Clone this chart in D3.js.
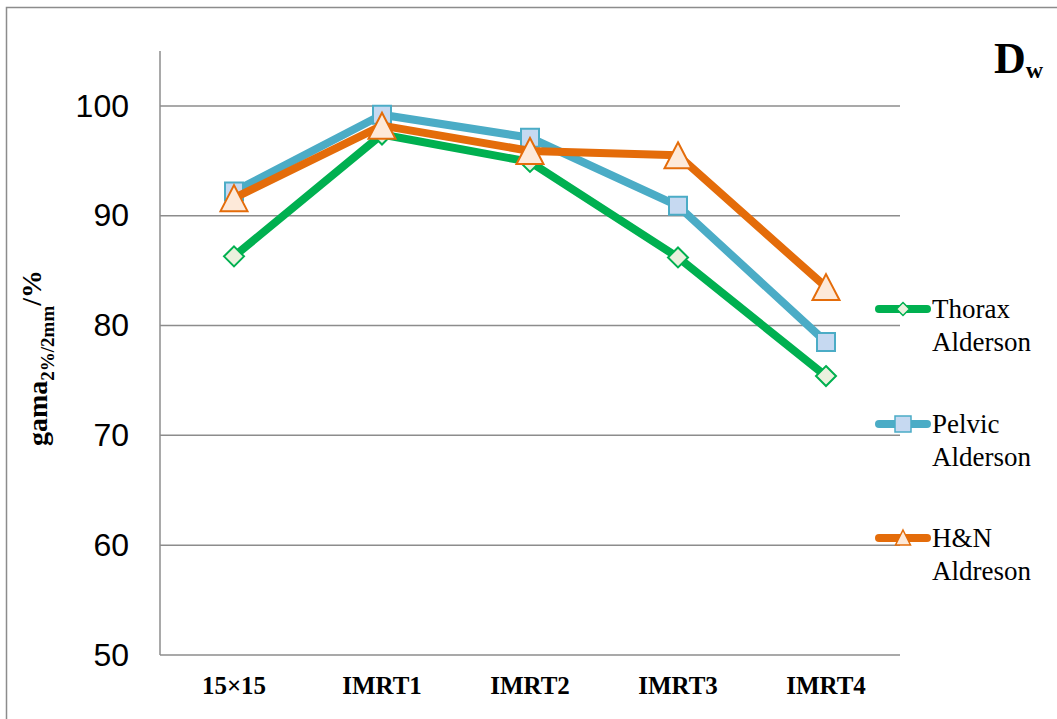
<!DOCTYPE html>
<html>
<head>
<meta charset="utf-8">
<script src="https://cdn.jsdelivr.net/npm/d3@7"></script>
<style>
  html, body { margin: 0; padding: 0; background: #fff; }
  svg { display: block; }
  .serif { font-family: "Liberation Serif", "Times New Roman", Times, "DejaVu Serif", serif; }
  .sans { font-family: "Liberation Sans", Arial, Helvetica, sans-serif; }
</style>
</head>
<body>
<svg id="chart" width="1057" height="719"></svg>
<script>
const categories = ["15×15", "IMRT1", "IMRT2", "IMRT3", "IMRT4"];
const thorax = [86.3, 97.4, 94.9, 86.2, 75.4];
const pelvic = [92.2, 99.2, 97.1, 90.9, 78.5];
const hn = [91.6, 98.2, 95.9, 95.5, 83.5];
const yTicks = [50, 60, 70, 80, 90, 100];
const seriesNames = [["Thorax", "Alderson"], ["Pelvic", "Alderson"], ["H&N", "Aldreson"]];

const series = [
  { name: seriesNames[0], values: thorax, color: "#00B050", fill: "#EBF1DE", marker: "diamond" },
  { name: seriesNames[1], values: pelvic, color: "#4BACC6", fill: "#C6D9F1", marker: "square" },
  { name: seriesNames[2], values: hn, color: "#E46C0A", fill: "#FDE9D9", marker: "triangle" }
];

const svg = d3.select("#chart");
const mLeft = 160, mRight = 900, mTop = 51, mBottom = 655;

const x = d3.scaleBand().domain(categories).range([mLeft, mRight]);
const y = d3.scaleLinear().domain([50, 105]).range([mBottom, mTop]);

// outer frame
svg.append("path").attr("d", `M6.5,800 L6.5,7.5 L1100,7.5`)
  .attr("fill", "none").attr("stroke", "#8c8c8c").attr("stroke-width", 1.5);

// gridlines
svg.append("g").selectAll("line").data(yTicks.filter(d => d > 50)).join("line")
  .attr("x1", mLeft).attr("x2", mRight)
  .attr("y1", d => y(d)).attr("y2", d => y(d))
  .attr("stroke", "#8c8c8c").attr("stroke-width", 1.5);

// axes lines
svg.append("line").attr("x1", mLeft).attr("x2", mLeft).attr("y1", mTop).attr("y2", mBottom)
  .attr("stroke", "#8c8c8c").attr("stroke-width", 1.5);
svg.append("line").attr("x1", mLeft).attr("x2", mRight).attr("y1", mBottom).attr("y2", mBottom)
  .attr("stroke", "#8c8c8c").attr("stroke-width", 1.5);

// y tick labels
const yAxis = d3.axisLeft(y).tickValues(yTicks).tickSize(0).tickPadding(31);
const yg = svg.append("g").attr("transform", `translate(${mLeft},0)`).call(yAxis);
yg.select(".domain").remove();
yg.attr("font-family", null).attr("font-size", null);
yg.selectAll("text").attr("class", "sans").style("font-size", "32px").attr("fill", "#000");

// x labels
const xAxis = d3.axisBottom(x).tickSize(0).tickPadding(21);
const xg = svg.append("g").attr("transform", `translate(0,${mBottom})`).call(xAxis);
xg.select(".domain").remove();
xg.attr("font-family", null).attr("font-size", null);
xg.selectAll("text").attr("class", "serif").style("font-size", "25px").style("font-weight", "bold").attr("fill", "#000");

// markers
function markerPath(type) {
  if (type === "diamond") return "M0,-10 L10,0 L0,10 L-10,0 Z";
  if (type === "square") return "M-9,-9 L9,-9 L9,9 L-9,9 Z";
  return "M0,-13 L13.5,13 L-13.5,13 Z";
}

const line = d3.line().x((d, i) => x(categories[i]) + x.bandwidth() / 2).y(d => y(d));

series.forEach(s => {
  const g = svg.append("g");
  g.append("path").attr("d", line(s.values)).attr("fill", "none")
    .attr("stroke", s.color).attr("stroke-width", 8).attr("stroke-linejoin", "round").attr("stroke-linecap", "round");
  g.selectAll("path.m").data(s.values).join("path").attr("class", "m")
    .attr("transform", (d, i) => `translate(${x(categories[i]) + x.bandwidth() / 2},${y(d)})`)
    .attr("d", markerPath(s.marker))
    .attr("fill", s.fill).attr("stroke", s.color).attr("stroke-width", 2);
});

// legend
const legY = [309, 424, 538];
series.forEach((s, i) => {
  const g = svg.append("g").attr("transform", `translate(0,${legY[i]})`);
  g.append("line").attr("x1", 879).attr("x2", 927).attr("y1", 0).attr("y2", 0)
    .attr("stroke", s.color).attr("stroke-width", 8).attr("stroke-linecap", "round");
  const mk = s.marker === "triangle" ? "M0,-8 L7.5,7 L-7.5,7 Z" : (s.marker === "square" ? "M-8,-8 L8,-8 L8,8 L-8,8 Z" : "M0,-6.5 L6.5,0 L0,6.5 L-6.5,0 Z");
  g.append("path").attr("transform", "translate(903,0)").attr("d", mk)
    .attr("fill", s.fill).attr("stroke", s.color).attr("stroke-width", 1.5);
  const t = g.append("text").attr("class", "serif").style("font-size", "27px").attr("fill", "#000");
  t.append("tspan").attr("x", 932).attr("y", 9).text(s.name[0]);
  t.append("tspan").attr("x", 932).attr("y", 42).text(s.name[1]);
});

// title D_w
const title = svg.append("text").attr("class", "serif").attr("x", 994).attr("y", 73)
  .style("font-weight", "bold").attr("fill", "#000");
title.append("tspan").style("font-size", "44px").text("D");
title.append("tspan").style("font-size", "24px").attr("dy", 5).text("w");

// y axis label
const yl = svg.append("text").attr("class", "serif").attr("transform", "translate(47,446) rotate(-90)")
  .style("font-weight", "bold").attr("fill", "#000");
yl.append("tspan").style("font-size", "28px").text("gama");
yl.append("tspan").style("font-size", "19px").attr("dy", 7).text("2%/2mm");
yl.append("tspan").style("font-size", "28px").attr("dy", -13).text("/%");
</script>
</body>
</html>
